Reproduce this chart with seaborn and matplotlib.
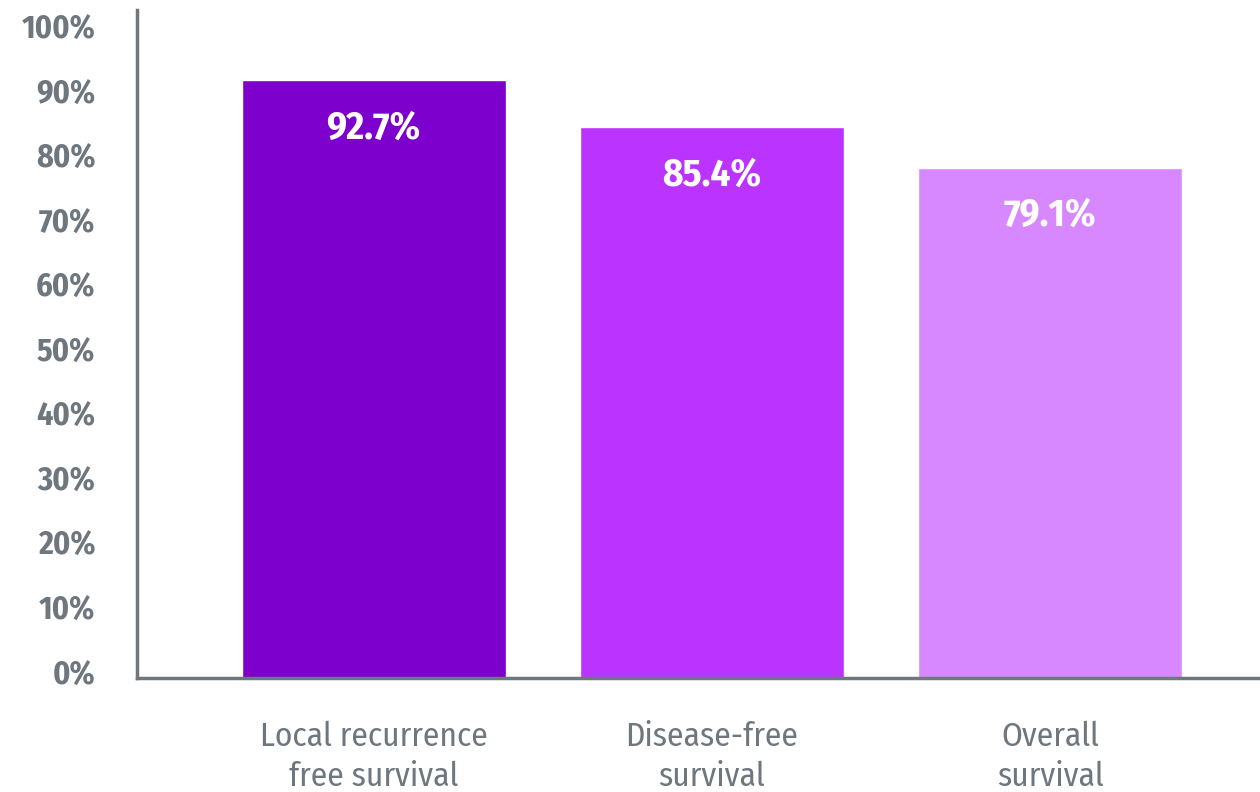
import pandas as pd
import seaborn as sns
import matplotlib.pyplot as plt
import matplotlib.transforms as mtransforms
from matplotlib.ticker import FuncFormatter
from matplotlib import font_manager

categories = ['Local recurrence\nfree survival', 'Disease-free\nsurvival', 'Overall\nsurvival']
rates = [92.7, 85.4, 79.1]
bar_colors = ['#7D00CC', '#BB33FF', '#D888FF']
y_ticks = [0, 10, 20, 30, 40, 50, 60, 70, 80, 90, 100]

df = pd.DataFrame({'category': categories, 'rate': rates})

# pick a condensed humanist face if there is one, else Open Sans
names = {f.name for f in font_manager.fontManager.ttflist}
candidates = ['Fira Sans Condensed', 'Open Sans Condensed', 'Asap Condensed',
              'Roboto Condensed', 'Open Sans']
font = next((c for c in candidates if c in names), 'DejaVu Sans')

sns.set_style('white')
plt.rcParams['font.family'] = [font, 'DejaVu Sans']

gray = '#6E767E'

fig = plt.figure(figsize=(12.6, 7.92), dpi=100)
ax = fig.add_axes([0.1087, 0.144, 0.8913, 0.843])

sns.barplot(data=df, x='category', y='rate', hue='category',
            palette=bar_colors, width=0.78, saturation=1, legend=False, ax=ax)

# value labels inside the bars
for i, v in enumerate(rates):
    ax.annotate(f'{v}%', xy=(i, v), xytext=(0, -48), textcoords='offset pixels',
                ha='center', va='center', color='white', fontsize=28,
                fontweight='bold')

ax.set_ylim(0, 103.5)
ax.set_xlim(-0.70, 2.62)
ax.set_yticks(y_ticks)
ax.yaxis.set_major_formatter(FuncFormatter(lambda v, p: f'{v:.0f}%'))
ax.set_xlabel('')
ax.set_ylabel('')

ax.tick_params(axis='y', length=0, pad=30, labelsize=23, labelcolor=gray)
ax.tick_params(axis='x', length=0, pad=31, labelsize=24, labelcolor=gray)
for lbl in ax.get_xticklabels():
    lbl.set_linespacing(1.3)

# y labels sit a little above their gridline in the original
shift = mtransforms.ScaledTranslation(0, 6 / 100, fig.dpi_scale_trans)
for lbl in ax.get_yticklabels():
    lbl.set_fontweight('bold')
    lbl.set_transform(lbl.get_transform() + shift)

sns.despine(ax=ax, top=True, right=True)
for side in ['left', 'bottom']:
    ax.spines[side].set_color(gray)
    ax.spines[side].set_linewidth(2.5)

plt.savefig('out.png', dpi=100)
